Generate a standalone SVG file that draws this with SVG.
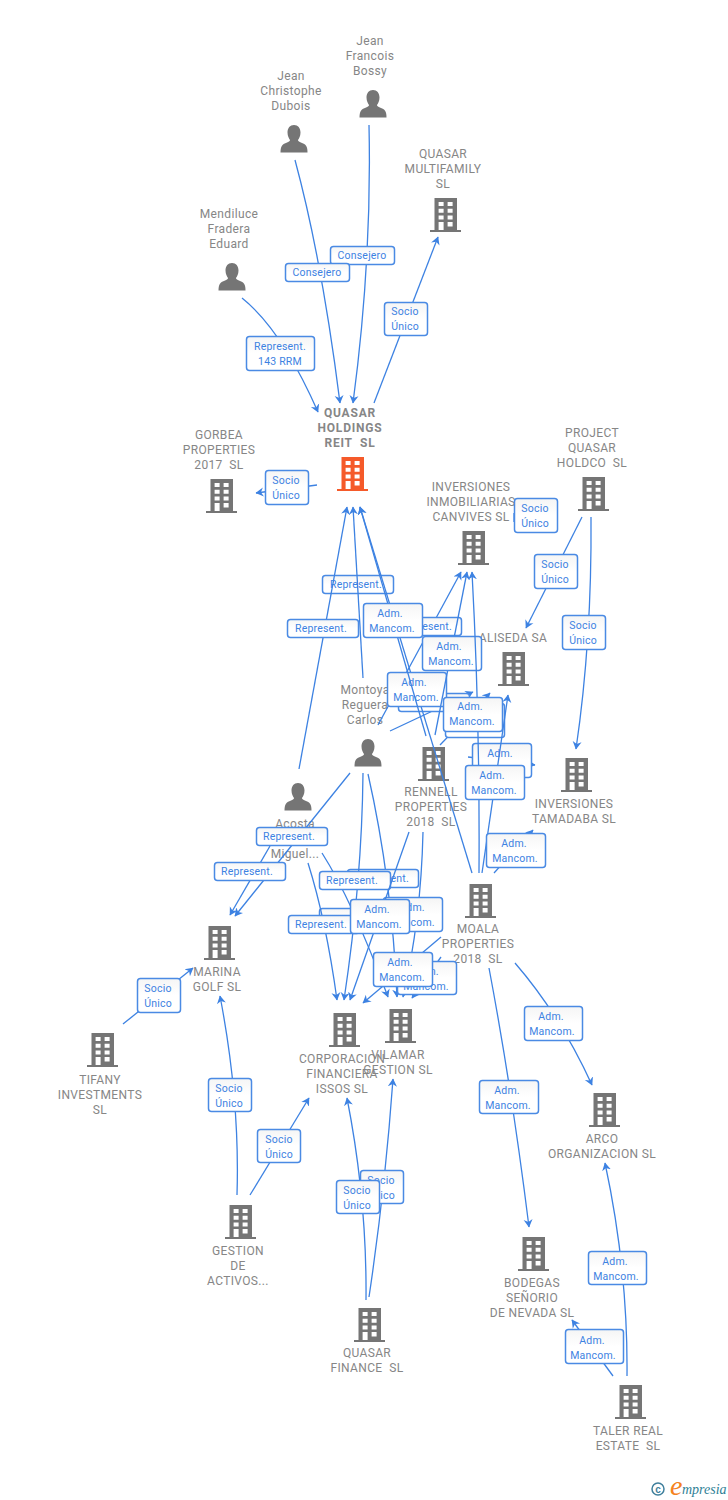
<svg xmlns="http://www.w3.org/2000/svg" width="728" height="1500" viewBox="0 0 728 1500">
<style>
text{font-family:"Roboto","Liberation Sans",sans-serif;white-space:pre}
.n{font-size:12px;fill:#868686;text-anchor:middle;letter-spacing:.35px}
.b{font-weight:bold;letter-spacing:.8px}
.l{fill:none;stroke:#3d82e2;stroke-width:1.3;marker-end:url(#a)}
.s{fill:none;stroke:#3d82e2;stroke-width:1.3}
.r{fill:url(#g);stroke:#4a8ae4;stroke-width:1.5}
.t{font-size:10.5px;fill:#3d82e2;text-anchor:middle;letter-spacing:.2px}
.i{fill:#757575}
</style>
<defs>
<linearGradient id="g" x1="0" y1="0" x2="0" y2="1"><stop offset="0" stop-color="#f5f5f5"/><stop offset="0.5" stop-color="#fff"/></linearGradient>
<marker id="a" markerUnits="userSpaceOnUse" markerWidth="12" markerHeight="12" refX="7.500" refY="5" orient="auto"><path d="M0,0.500 L8,5 L0,9.500 L2.500,5Z" fill="#3d82e2"/></marker>
<symbol id="bld" width="32" height="34" viewBox="0 0 32 34">
<path d="M4.5,0H27V32H31V34H0V32H4.5Z"/>
<path fill="#fff" d="M8.6,4h5v4h-5zM17.6,4h5v4h-5zM8.6,10.7h5v4h-5zM17.6,10.7h5v4h-5zM8.6,17.4h5v4h-5zM17.6,17.4h5v4h-5zM8.6,24h5v8h-5zM17.6,24h5v4.4h-5z"/>
</symbol>
<symbol id="per" width="28" height="28" viewBox="0 0 28 28">
<path d="M14,0C18,0 20.500,3 20.500,7.500C20.500,11 19,13.500 18,15C18,17 22,17.500 25,19.500C27,21 27.500,24 27.500,27.500H0.500C0.500,24 1,21 3,19.500C6,17.500 10,17 10,15C9,13.500 7.500,11 7.500,7.500C7.500,3 10,0 14,0Z"/>
</symbol>
</defs>

<g id="nodes">
<g id="n-bossy"><use href="#per" x="359" y="90" class="i"/><text class="n" x="370" y="45">Jean</text><text class="n" x="370" y="60">Francois</text><text class="n" x="370" y="75">Bossy</text></g>
<g id="n-dubois"><use href="#per" x="280" y="125" class="i"/><text class="n" x="291" y="80">Jean</text><text class="n" x="291" y="95">Christophe</text><text class="n" x="291" y="110">Dubois</text></g>
<g id="n-mendiluce"><use href="#per" x="218" y="263" class="i"/><text class="n" x="229" y="218">Mendiluce</text><text class="n" x="229" y="233">Fradera</text><text class="n" x="229" y="248">Eduard</text></g>
<g id="n-multifamily"><use href="#bld" x="430" y="198" class="i"/><text class="n" x="443" y="158">QUASAR</text><text class="n" x="443" y="173">MULTIFAMILY</text><text class="n" x="443" y="188">SL</text></g>
<g id="n-holdings"><use href="#bld" x="337" y="457" fill="#f55a2a"/><text class="n b" x="350" y="417">QUASAR</text><text class="n b" x="350" y="432">HOLDINGS</text><text class="n b" x="350" y="447">REIT  SL</text></g>
<g id="n-gorbea"><use href="#bld" x="206" y="479" class="i"/><text class="n" x="219" y="439">GORBEA</text><text class="n" x="219" y="454">PROPERTIES</text><text class="n" x="219" y="469">2017  SL</text></g>
<g id="n-project"><use href="#bld" x="578" y="477" class="i"/><text class="n" x="592" y="437">PROJECT</text><text class="n" x="592" y="452">QUASAR</text><text class="n" x="592" y="467">HOLDCO  SL</text></g>
<g id="n-canvives"><use href="#bld" x="458" y="531" class="i"/><text class="n" x="471" y="491">INVERSIONES</text><text class="n" x="471" y="506">INMOBILIARIAS</text><text class="n" x="471" y="521">CANVIVES SL</text></g>
<g id="n-aliseda"><use href="#bld" x="498" y="652" class="i"/><text class="n" x="513" y="642">ALISEDA SA</text></g>
<g id="n-montoya"><use href="#per" x="354" y="739" class="i"/><text class="n" x="365" y="694">Montoya</text><text class="n" x="365" y="709">Reguera</text><text class="n" x="365" y="724">Carlos</text></g>
<g id="n-rennell"><use href="#bld" x="418" y="747" class="i"/><text class="n" x="431" y="796">RENNELL</text><text class="n" x="431" y="811">PROPERTIES</text><text class="n" x="431" y="826">2018  SL</text></g>
<g id="n-tamadaba"><use href="#bld" x="561" y="758" class="i"/><text class="n" x="574" y="808">INVERSIONES</text><text class="n" x="574" y="823">TAMADABA SL</text></g>
<g id="n-acosta"><use href="#per" x="284" y="783" class="i"/><text class="n" x="295" y="828">Acosta</text><text class="n" x="295" y="858">Miguel...</text></g>
<g id="n-moala"><use href="#bld" x="465" y="884" class="i"/><text class="n" x="478" y="933">MOALA</text><text class="n" x="478" y="948">PROPERTIES</text><text class="n" x="478" y="963">2018  SL</text></g>
<g id="n-marina"><use href="#bld" x="204" y="926" class="i"/><text class="n" x="217" y="976">MARINA</text><text class="n" x="217" y="991">GOLF SL</text></g>
<g id="n-corporacion"><use href="#bld" x="329" y="1013" class="i"/><text class="n" x="342" y="1063">CORPORACION</text><text class="n" x="342" y="1078">FINANCIERA</text><text class="n" x="342" y="1093">ISSOS SL</text></g>
<g id="n-vilamar"><use href="#bld" x="385" y="1009" class="i"/><text class="n" x="398" y="1059">VILAMAR</text><text class="n" x="398" y="1074">GESTION SL</text></g>
<g id="n-tifany"><use href="#bld" x="87" y="1033" class="i"/><text class="n" x="100" y="1084">TIFANY</text><text class="n" x="100" y="1099">INVESTMENTS</text><text class="n" x="100" y="1114">SL</text></g>
<g id="n-arco"><use href="#bld" x="589" y="1093" class="i"/><text class="n" x="602" y="1143">ARCO</text><text class="n" x="602" y="1158">ORGANIZACION SL</text></g>
<g id="n-gestion"><use href="#bld" x="225" y="1205" class="i"/><text class="n" x="238" y="1255">GESTION</text><text class="n" x="238" y="1270">DE</text><text class="n" x="238" y="1285">ACTIVOS...</text></g>
<g id="n-bodegas"><use href="#bld" x="518" y="1237" class="i"/><text class="n" x="532" y="1287">BODEGAS</text><text class="n" x="532" y="1302">SEÑORIO</text><text class="n" x="532" y="1317">DE NEVADA SL</text></g>
<g id="n-finance"><use href="#bld" x="354" y="1308" class="i"/><text class="n" x="367" y="1357">QUASAR</text><text class="n" x="367" y="1372">FINANCE  SL</text></g>
<g id="n-taler"><use href="#bld" x="615" y="1385" class="i"/><text class="n" x="628" y="1435">TALER REAL</text><text class="n" x="628" y="1450">ESTATE  SL</text></g>
</g>

<g id="connectors">
<path class="l" d="M369,125Q372,260 353,403"/>
<rect class="r" x="330.500" y="246.500" width="64" height="18" rx="3"/><text class="t" x="362" y="259">Consejero</text>
<path class="l" d="M295,160Q322,260 340,403"/>
<rect class="r" x="285.500" y="263.500" width="64" height="18" rx="3"/><text class="t" x="317" y="276">Consejero</text>
<path class="l" d="M242,298Q282,330 318,412"/>
<rect class="r" x="246.500" y="336.500" width="68" height="34" rx="3"/><text class="t" x="280" y="350">Represent.</text><text class="t" x="280" y="365">143 RRM</text>
<path class="l" d="M374,403L438,237"/>
<rect class="r" x="384.500" y="302.500" width="43" height="33" rx="3"/><text class="t" x="405" y="315">Socio</text><text class="t" x="405" y="330">Único</text>
<path class="l" d="M317,485L256,493"/>
<rect class="r" x="265.500" y="470.500" width="43" height="34" rx="3"/><text class="t" x="286" y="484">Socio</text><text class="t" x="286" y="499">Único</text>

<rect class="r" x="322.500" y="575.500" width="71" height="18" rx="3"/><text class="t" x="356" y="588">Represent.</text>
<path class="l" d="M363,678L353,507"/>
<path class="l" d="M299,769L347,507"/>
<rect class="r" x="287.500" y="619.500" width="71" height="18" rx="3"/><text class="t" x="321" y="632">Represent.</text>
<path class="l" d="M378,725L461,572"/>
<rect class="r" x="390.500" y="617.500" width="71" height="18" rx="3"/><text class="t" x="426" y="630">Represent.</text>
<path class="l" d="M390,731L473,692"/>
<rect class="r" x="398.500" y="693.500" width="71" height="18" rx="3"/>
<path class="l" d="M472,873L360,507"/>
<rect class="r" x="387.500" y="672.500" width="59" height="34" rx="3"/><text class="t" x="414" y="686">Adm.</text><text class="t" x="416" y="701">Mancom.</text>
<path class="l" d="M426,736L360,507"/>
<rect class="r" x="363.500" y="603.500" width="59" height="34" rx="3"/><text class="t" x="390" y="617">Adm.</text><text class="t" x="392" y="632">Mancom.</text>
<path class="l" d="M435,735L467,572"/>
<rect class="r" x="422.500" y="636.500" width="59" height="34" rx="3"/><text class="t" x="449" y="650">Adm.</text><text class="t" x="451" y="665">Mancom.</text>
<path class="l" d="M440,745L490,693"/>
<rect class="r" x="445.500" y="703.500" width="59" height="34" rx="3"/><text class="t" x="474" y="732">Mancom.</text>
<path class="l" d="M468,757L535,765"/>
<rect class="r" x="472.500" y="743.500" width="59" height="34" rx="3"/><text class="t" x="500" y="757">Adm.</text>
<path class="l" d="M479,873Q480,720 472,572"/>
<rect class="r" x="443.500" y="697.500" width="59" height="34" rx="3"/><text class="t" x="470" y="710">Adm.</text><text class="t" x="472" y="725">Mancom.</text>
<path class="l" d="M482,873L508,695"/>
<rect class="r" x="465.500" y="765.500" width="59" height="34" rx="3"/><text class="t" x="492" y="779">Adm.</text><text class="t" x="494" y="794">Mancom.</text>
<path class="l" d="M494,873L533,830"/>
<rect class="r" x="486.500" y="833.500" width="59" height="34" rx="3"/><text class="t" x="514" y="847">Adm.</text><text class="t" x="515" y="862">Mancom.</text>

<path class="s" d="M514,513V522"/>
<rect class="r" x="514.500" y="498.500" width="43" height="34" rx="3"/><text class="t" x="535" y="512">Socio</text><text class="t" x="535" y="527">Único</text>
<path class="l" d="M582,517L526,628"/>
<rect class="r" x="534.500" y="554.500" width="43" height="34" rx="3"/><text class="t" x="555" y="568">Socio</text><text class="t" x="555" y="583">Único</text>
<path class="l" d="M591,517Q592,640 576,749"/>
<rect class="r" x="562.500" y="615.500" width="43" height="34" rx="3"/><text class="t" x="583" y="629">Socio</text><text class="t" x="583" y="644">Único</text>

<path class="l" d="M350,773L235,916"/>
<rect class="r" x="256.500" y="827.500" width="71" height="18" rx="3"/><text class="t" x="289" y="840">Represent.</text>
<path class="l" d="M270,846L230,915"/>
<rect class="r" x="214.500" y="862.500" width="71" height="18" rx="3"/><text class="t" x="247" y="875">Represent.</text>

<path class="l" d="M322,853Q352,900 388,997"/>
<rect class="r" x="319.500" y="908.500" width="71" height="18" rx="3"/>
<path class="l" d="M308,863Q326,920 337,1000"/>
<rect class="r" x="288.500" y="915.500" width="71" height="18" rx="3"/><text class="t" x="321" y="928">Represent.</text>
<path class="l" d="M368,774Q392,880 397,997"/>
<rect class="r" x="347.500" y="869.500" width="71" height="18" rx="3"/><text class="t" x="383" y="882">Represent.</text>
<path class="l" d="M363,773Q362,880 344,1000"/>
<rect class="r" x="319.500" y="871.500" width="71" height="18" rx="3"/><text class="t" x="352" y="884">Represent.</text>
<path class="l" d="M423,832Q421,920 403,997"/>
<rect class="r" x="383.500" y="897.500" width="59" height="34" rx="3"/><text class="t" x="412" y="911">Adm.</text><text class="t" x="412" y="926">Mancom.</text>
<path class="l" d="M409,832L350,1000"/>
<rect class="r" x="350.500" y="899.500" width="59" height="34" rx="3"/><text class="t" x="377" y="913">Adm.</text><text class="t" x="379" y="928">Mancom.</text>
<path class="l" d="M441,957L412,998"/>
<rect class="r" x="397.500" y="961.500" width="59" height="33" rx="3"/><text class="t" x="426" y="975">Adm.</text><text class="t" x="426" y="990">Mancom.</text>
<path class="l" d="M441,937L363,1003"/>
<rect class="r" x="373.500" y="952.500" width="59" height="34" rx="3"/><text class="t" x="400" y="966">Adm.</text><text class="t" x="402" y="981">Mancom.</text>

<path class="l" d="M515,963Q560,1015 592,1085"/>
<rect class="r" x="524.500" y="1006.500" width="58" height="34" rx="3"/><text class="t" x="551" y="1020">Adm.</text><text class="t" x="552" y="1035">Mancom.</text>
<path class="l" d="M489,968Q512,1090 529,1227"/>
<rect class="r" x="479.500" y="1080.500" width="59" height="33" rx="3"/><text class="t" x="507" y="1094">Adm.</text><text class="t" x="508" y="1109">Mancom.</text>
<path class="l" d="M627,1376Q628,1270 605,1163"/>
<rect class="r" x="588.500" y="1251.500" width="58" height="33" rx="3"/><text class="t" x="615" y="1265">Adm.</text><text class="t" x="616" y="1280">Mancom.</text>
<path class="l" d="M613,1376L572,1320"/>
<rect class="r" x="565.500" y="1329.500" width="58" height="34" rx="3"/><text class="t" x="592" y="1344">Adm.</text><text class="t" x="593" y="1359">Mancom.</text>

<path class="l" d="M123,1024L193,968"/>
<rect class="r" x="137.500" y="978.500" width="43" height="34" rx="3"/><text class="t" x="158" y="992">Socio</text><text class="t" x="158" y="1007">Único</text>
<path class="l" d="M237,1195Q240,1100 220,996"/>
<rect class="r" x="208.500" y="1078.500" width="43" height="33" rx="3"/><text class="t" x="229" y="1092">Socio</text><text class="t" x="229" y="1107">Único</text>
<path class="l" d="M250,1195L309,1098"/>
<rect class="r" x="257.500" y="1129.500" width="43" height="33" rx="3"/><text class="t" x="279" y="1143">Socio</text><text class="t" x="279" y="1158">Único</text>
<path class="l" d="M369,1297Q385,1190 393,1079"/>
<rect class="r" x="360.500" y="1170.500" width="43" height="33" rx="3"/><text class="t" x="381" y="1184">Socio</text><text class="t" x="381" y="1199">Único</text>
<path class="l" d="M366,1300Q367,1200 347,1098"/>
<rect class="r" x="336.500" y="1180.500" width="43" height="33" rx="3"/><text class="t" x="357" y="1194">Socio</text><text class="t" x="357" y="1209">Único</text>
</g>

<g id="logo">
<circle cx="658" cy="1489" r="6" fill="none" stroke="#3f7f9c" stroke-width="1.5"/>
<text x="658" y="1492.500" font-size="10" font-weight="bold" fill="#3f7f9c" text-anchor="middle" style="font-family:'Liberation Sans',sans-serif">c</text>
<text x="670" y="1495" font-size="28" fill="#f58220" font-style="italic" style="font-family:'Liberation Serif',serif">e</text>
<text x="682" y="1494" font-size="14" fill="#2f7f96" font-style="italic" style="font-family:'Liberation Serif',serif">mpresia</text>
</g>
</svg>
